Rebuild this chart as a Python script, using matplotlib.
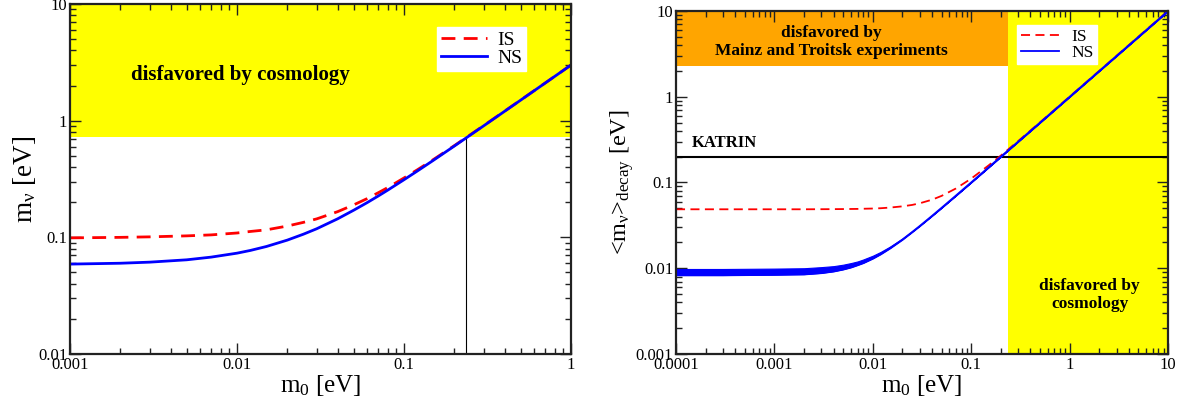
import matplotlib
matplotlib.use('Agg')
import matplotlib.pyplot as plt
from matplotlib.ticker import FixedLocator, FixedFormatter, LogLocator, NullFormatter

# ---------------- data ----------------
m0_left = [0.001, 0.002, 0.003, 0.005, 0.007, 0.01, 0.012, 0.015, 0.02, 0.025, 0.03,
           0.04, 0.05, 0.06, 0.07, 0.08, 0.1, 0.12, 0.15, 0.2, 0.3, 0.5, 0.7, 1.0]
sum_IS = [0.099, 0.100, 0.101, 0.103, 0.105, 0.109, 0.1123, 0.116, 0.125, 0.1345, 0.144,
          0.166, 0.190, 0.2145, 0.241, 0.2673, 0.323, 0.379, 0.465, 0.611, 0.908, 1.505,
          2.104, 3.003]
sum_NS = [0.059, 0.060, 0.0613, 0.0642, 0.0677, 0.0732, 0.0772, 0.0835, 0.0947, 0.1065,
          0.1185, 0.1441, 0.171, 0.1981, 0.226, 0.2543, 0.312, 0.370, 0.458, 0.606, 0.904,
          1.502, 2.102, 3.001]

m0_right = [0.0001, 0.0003, 0.001, 0.002, 0.003, 0.004, 0.005, 0.006, 0.007, 0.008, 0.01,
            0.012, 0.015, 0.02, 0.025, 0.03, 0.04, 0.05, 0.07, 0.1, 0.15, 0.2, 0.3, 0.5,
            1.0, 2.0, 5.0, 10.0]
decay_IS = [0.0487, 0.0487, 0.0487, 0.0487, 0.0488, 0.0489, 0.0490, 0.0491, 0.0492, 0.0494,
            0.0497, 0.0501, 0.0510, 0.0527, 0.0547, 0.0572, 0.0630, 0.0698, 0.0852, 0.111,
            0.158, 0.206, 0.304, 0.502, 1.001, 2.0, 5.0, 10.0]
decay_NS_lo = [0.0083, 0.0083, 0.0084, 0.0085, 0.0088, 0.0092, 0.0097, 0.01025, 0.0109,
               0.01153, 0.0130, 0.01459, 0.01715, 0.0216, 0.02634, 0.0311, 0.04085, 0.0507,
               0.0705, 0.1003, 0.1502, 0.2002, 0.3001, 0.5, 1.0, 2.0, 5.0, 10.0]
decay_NS_hi = [0.0098, 0.0098, 0.0099, 0.0100, 0.0103, 0.01058, 0.0110, 0.01149, 0.0120,
               0.01265, 0.0140, 0.01549, 0.01792, 0.0222, 0.02685, 0.0316, 0.04118, 0.0509,
               0.0707, 0.1005, 0.1503, 0.2002, 0.3002, 0.5, 1.0, 2.0, 5.0, 10.0]

cosmo_m0 = 0.235       # cosmology bound on m0
cosmo_sum = 0.72       # cosmology bound on sum of masses
mainz_limit = 2.3      # Mainz/Troitsk bound
katrin = 0.2           # KATRIN sensitivity

left_xticks = [0.001, 0.01, 0.1, 1]
left_xlabels = ['0.001', '0.01', '0.1', '1']
left_yticks = [0.01, 0.1, 1, 10]
left_ylabels = ['0.01', '0.1', '1', '10']
right_xticks = [0.0001, 0.001, 0.01, 0.1, 1, 10]
right_xlabels = ['0.0001', '0.001', '0.01', '0.1', '1', '10']
right_yticks = [0.001, 0.01, 0.1, 1, 10]
right_ylabels = ['0.001', '0.01', '0.1', '1', '10']

# ---------------- style ----------------
plt.rcParams['font.family'] = ['Liberation Serif', 'DejaVu Serif']
plt.rcParams['mathtext.fontset'] = 'custom'
plt.rcParams['mathtext.rm'] = 'Liberation Serif'
plt.rcParams['mathtext.it'] = 'Liberation Serif:italic'
plt.rcParams['mathtext.default'] = 'regular'

YELLOW = '#ffff00'
ORANGE = '#ffa500'
RED = '#ff0000'
BLUE = '#0000ff'

fig = plt.figure(figsize=(11.81, 4.05), dpi=100)
ax1 = fig.add_axes([0.0593, 0.1259, 0.4242, 0.8641])
ax2 = fig.add_axes([0.5724, 0.126, 0.4166, 0.8468])


def style_axis(ax, xt, xl, yt, yl):
    ax.set_xscale('log')
    ax.set_yscale('log')
    ax.xaxis.set_major_locator(FixedLocator(xt))
    ax.xaxis.set_major_formatter(FixedFormatter(xl))
    ax.yaxis.set_major_locator(FixedLocator(yt))
    ax.yaxis.set_major_formatter(FixedFormatter(yl))
    ax.xaxis.set_minor_locator(LogLocator(base=10, subs=range(2, 10), numticks=20))
    ax.yaxis.set_minor_locator(LogLocator(base=10, subs=range(2, 10), numticks=20))
    ax.xaxis.set_minor_formatter(NullFormatter())
    ax.yaxis.set_minor_formatter(NullFormatter())
    ax.tick_params(which='both', direction='in', top=True, right=True, width=1.0,
                   color='#222222')
    ax.tick_params(which='major', length=8, labelsize=12, pad=2)
    ax.tick_params(which='minor', length=4)
    for s in ax.spines.values():
        s.set_linewidth(1.6)
        s.set_color('#222222')
        s.set_zorder(10)


# ---------------- left panel ----------------
ax1.set_xlim(left_xticks[0], left_xticks[-1])
ax1.set_ylim(left_yticks[0], left_yticks[-1])
ax1.axhspan(cosmo_sum, left_yticks[-1], color=YELLOW, zorder=0, lw=0)
ax1.plot([cosmo_m0, cosmo_m0], [left_yticks[0], cosmo_sum], color='black', lw=0.8, zorder=1)
ax1.plot(m0_left, sum_IS, color=RED, lw=2.0, ls=(0, (5, 3)), label='IS', zorder=3)
ax1.plot(m0_left, sum_NS, color=BLUE, lw=2.0, label='NS', zorder=3)
ax1.text(0.0105, 2.45, 'disfavored by cosmology', fontsize=15, fontweight='bold',
         ha='center', va='center')
style_axis(ax1, left_xticks, left_xlabels, left_yticks, left_ylabels)
ax1.set_xlabel(r'm$_0$ [eV]', fontsize=18, labelpad=0)
ax1.set_ylabel(r'm$_\nu$ [eV]', fontsize=19.5, labelpad=0)
leg1 = ax1.legend(loc='upper right', bbox_to_anchor=(0.91, 0.934), borderaxespad=0,
                  fontsize=14, frameon=True, fancybox=False, framealpha=1,
                  edgecolor='white', handlelength=2.4, handletextpad=0.5,
                  borderpad=0.2, labelspacing=0.05)

# ---------------- right panel ----------------
ax2.set_xlim(right_xticks[0], right_xticks[-1])
ax2.set_ylim(right_yticks[0], right_yticks[-1])
ax2.fill_between([right_xticks[0], cosmo_m0], mainz_limit, right_yticks[-1],
                 color=ORANGE, lw=0, zorder=0)
ax2.axvspan(cosmo_m0, right_xticks[-1], color=YELLOW, zorder=0, lw=0)
ax2.axhline(katrin, color='black', lw=1.5, zorder=2)
ax2.plot(m0_right, decay_IS, color=RED, lw=1.3, ls=(0, (5, 3)), label='IS', zorder=3)
ax2.fill_between(m0_right, decay_NS_lo, decay_NS_hi, color=BLUE, lw=0.8, zorder=3)
ax2.plot(m0_right, decay_NS_lo, color=BLUE, lw=1.3, label='NS', zorder=3)
ax2.text(0.0038, 4.35, 'disfavored by\nMainz and Troitsk experiments', fontsize=12.5,
         fontweight='bold', ha='center', va='center', linespacing=1.2)
ax2.text(1.6, 0.0049, 'disfavored by\ncosmology', fontsize=12.5, fontweight='bold',
         ha='center', va='center', linespacing=1.2)
ax2.text(0.000145, 0.29, 'KATRIN', fontsize=12, fontweight='bold', ha='left', va='center')
style_axis(ax2, right_xticks, right_xlabels, right_yticks, right_ylabels)
ax2.set_xlabel(r'm$_0$ [eV]', fontsize=18, labelpad=0)
ax2.set_ylabel(r'<m$_\nu$>$_{decay}$ [eV]', fontsize=17.5, labelpad=0)
leg2 = ax2.legend(loc='upper right', bbox_to_anchor=(0.856, 0.959), borderaxespad=0,
                  fontsize=12.5, frameon=True, fancybox=False, framealpha=1,
                  edgecolor='white', handlelength=2.2, handletextpad=0.7,
                  borderpad=0.2, labelspacing=0.0)

fig.savefig('out.png', dpi=100)
